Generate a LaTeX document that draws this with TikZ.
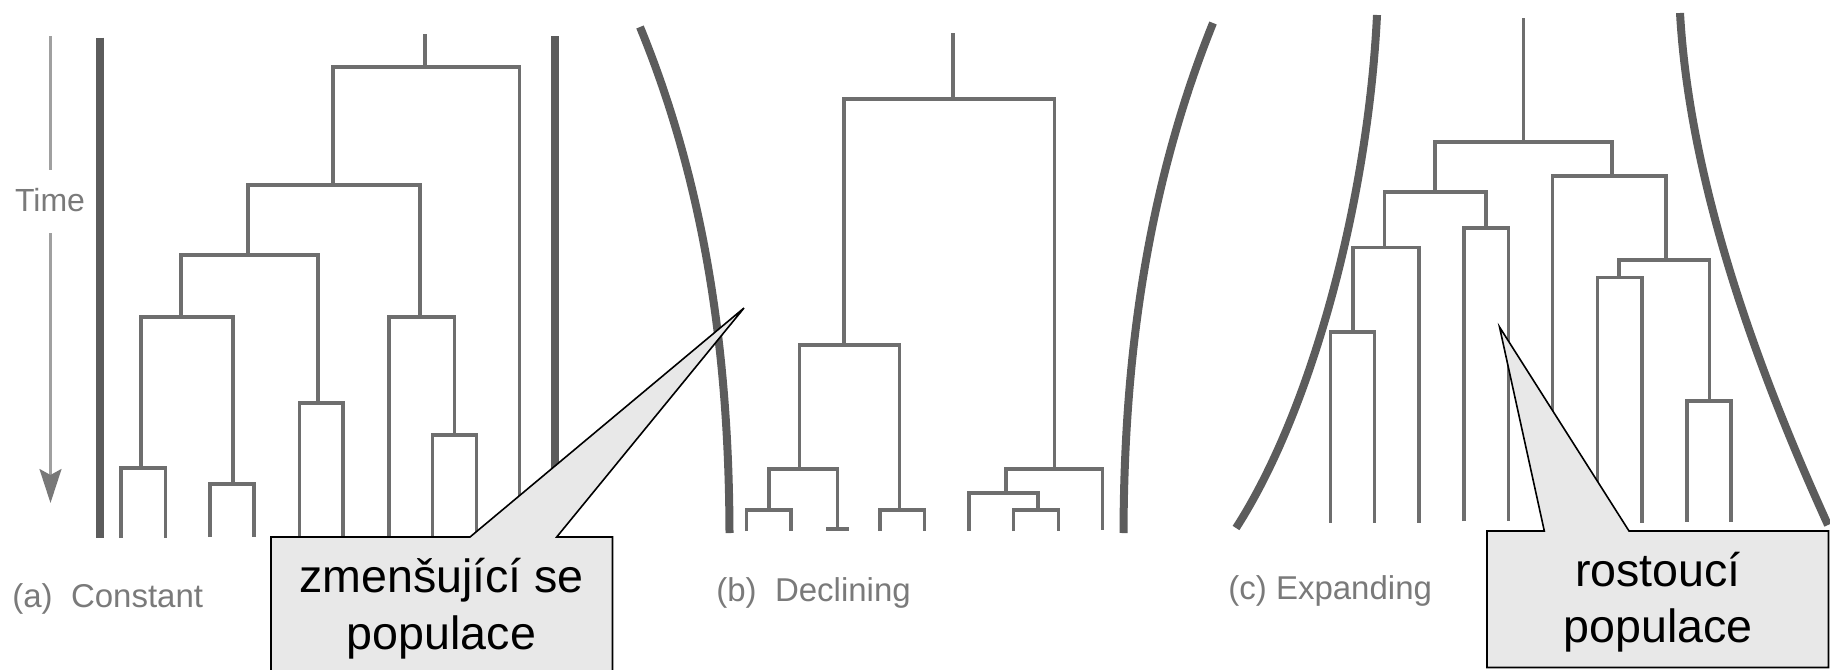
\documentclass[tikz,border=0pt]{standalone}
\usepackage{fontspec}
\setmainfont{Liberation Sans}
\usetikzlibrary{arrows.meta}
\definecolor{treegray}{HTML}{6E6E6E}
\definecolor{bargray}{HTML}{5C5C5C}
\definecolor{labgray}{HTML}{7A7A7A}
\definecolor{arrgray}{HTML}{A0A0A0}
\definecolor{headgray}{HTML}{787878}
\definecolor{callfill}{HTML}{E8E8E8}
\begin{document}
\begin{tikzpicture}[x=0.5pt,y=-0.5pt,
  br/.style={draw=treegray,line width=1.8pt,line join=miter},
  popbound/.style={draw=bargray,line width=4pt},
  panlabel/.style={anchor=base west,inner sep=0pt,text=labgray,font=\fontsize{16.5}{20}\selectfont},
  timearrow/.style={draw=arrgray,line width=1.2pt},
  callbox/.style={draw=black,fill=callfill,line width=0.8pt,line join=miter},
  calltext/.style={anchor=base,inner sep=0pt,text=black,font=\fontsize{23.3}{28}\selectfont}]
\useasboundingbox (0,0) rectangle (1830,669);
\clip (0,0) rectangle (1830,669);

% ---------- Time arrow ----------
\node[anchor=base,inner sep=0pt,text=labgray,font=\fontsize{16}{19}\selectfont] (time) at (50,211.5) {Time};
\coordinate (ttop) at (50.5,36);
\coordinate (tgap1) at (50.5,170);
\coordinate (tgap2) at (50.5,233);
\coordinate (tbot) at (50.5,503);
\draw[timearrow] (ttop) -- (tgap1);
\draw[timearrow,-{Stealth[length=17pt,width=11pt,inset=3pt,color=headgray]}] (tgap2) -- (tbot);

% ---------- (a) constant ----------
\draw[popbound] (100,37.5) -- (100,538);
\draw[popbound] (554.5,36) -- (554.5,538);
\draw[br] (425,34) -- (425,67);
\draw[br] (333,185) -- (333,67) -- (519.5,67) -- (519.5,536);
\draw[br] (248,255) -- (248,185) -- (420,185) -- (420,317);
\draw[br] (181,317) -- (181,255) -- (318,255) -- (318,403);
\draw[br] (141,468) -- (141,317) -- (233,317) -- (233,484);
\draw[br] (121,538) -- (121,468) -- (165.5,468) -- (165.5,538);
\draw[br] (210,537) -- (210,484) -- (254,484) -- (254,537);
\draw[br] (299.5,537) -- (299.5,403) -- (343,403) -- (343,537);
\draw[br] (389,536) -- (389,317) -- (454.5,317) -- (454.5,435);
\draw[br] (432.5,536) -- (432.5,435) -- (476.5,435) -- (476.5,536);
\node[panlabel] (laba) at (12,607) {(a)~~Constant};

% ---------- (b) declining ----------
\draw[popbound] (640,27) .. controls (712,202) and (729,380) .. (729.5,533);
\draw[popbound] (1213,23) .. controls (1141,202) and (1124,380) .. (1123.5,533);
\draw[br] (953,33) -- (953,99);
\draw[br] (844,345) -- (844,99) -- (1054.5,99) -- (1054.5,469);
\draw[br] (799.5,469) -- (799.5,345) -- (899.5,345) -- (899.5,510);
\draw[br] (769,510) -- (769,469) -- (837.3,469) -- (837.3,529);
\draw[br] (826,529) -- (849,529);
\draw[br] (746.5,531) -- (746.5,510) -- (791,510) -- (791,531);
\draw[br] (880,531) -- (880,510) -- (924.5,510) -- (924.5,531);
\draw[br] (1006,493) -- (1006,469) -- (1102.5,469) -- (1102.5,530);
\draw[br] (969,531) -- (969,493) -- (1038,493) -- (1038,510);
\draw[br] (1013.5,531) -- (1013.5,510) -- (1058.5,510) -- (1058.5,531);
\node[panlabel] (labb) at (716,601) {(b)~~Declining};

% ---------- (c) expanding ----------
\draw[popbound] (1377,15) .. controls (1368,200) and (1312,410) .. (1236,528);
\draw[popbound] (1680,13) .. controls (1690,190) and (1762,380) .. (1828,525);
\draw[br] (1523.5,18) -- (1523.5,142);
\draw[br] (1435,192) -- (1435,142) -- (1612,142) -- (1612,176);
\draw[br] (1384.5,247.5) -- (1384.5,192) -- (1486,192) -- (1486,228);
\draw[br] (1353,332) -- (1353,247.5) -- (1419,247.5) -- (1419,522.5);
\draw[br] (1330.5,522.5) -- (1330.5,332) -- (1374.5,332) -- (1374.5,522.5);
\draw[br] (1464,521) -- (1464,228) -- (1508.5,228) -- (1508.5,521);
\draw[br] (1552.5,522) -- (1552.5,176) -- (1666,176) -- (1666,260);
\draw[br] (1619,277.5) -- (1619,260) -- (1709.5,260) -- (1709.5,401);
\draw[br] (1597.5,522.5) -- (1597.5,277.5) -- (1642,277.5) -- (1642,522.5);
\draw[br] (1687,521.5) -- (1687,401) -- (1731,401) -- (1731,521.5);
\node[panlabel] (labc) at (1228,599) {(c) Expanding};

% ---------- callouts ----------
\draw[callbox] (271,537) -- (470,537) -- (744,308) -- (556.7,537) -- (612.5,537)
  -- (612.5,680) -- (271,680) -- cycle;
\node[calltext] (ca1) at (441.5,592.5) {zmenšující se};
\node[calltext] (ca2) at (441.5,649) {populace};

\draw[callbox] (1487,531) -- (1544.3,531) -- (1499.5,327) -- (1629,531) -- (1828.5,531)
  -- (1828.5,667.5) -- (1487,667.5) -- cycle;
\node[calltext] (cc1) at (1658,586) {rostoucí};
\node[calltext] (cc2) at (1658,642) {populace};
\end{tikzpicture}
\end{document}
